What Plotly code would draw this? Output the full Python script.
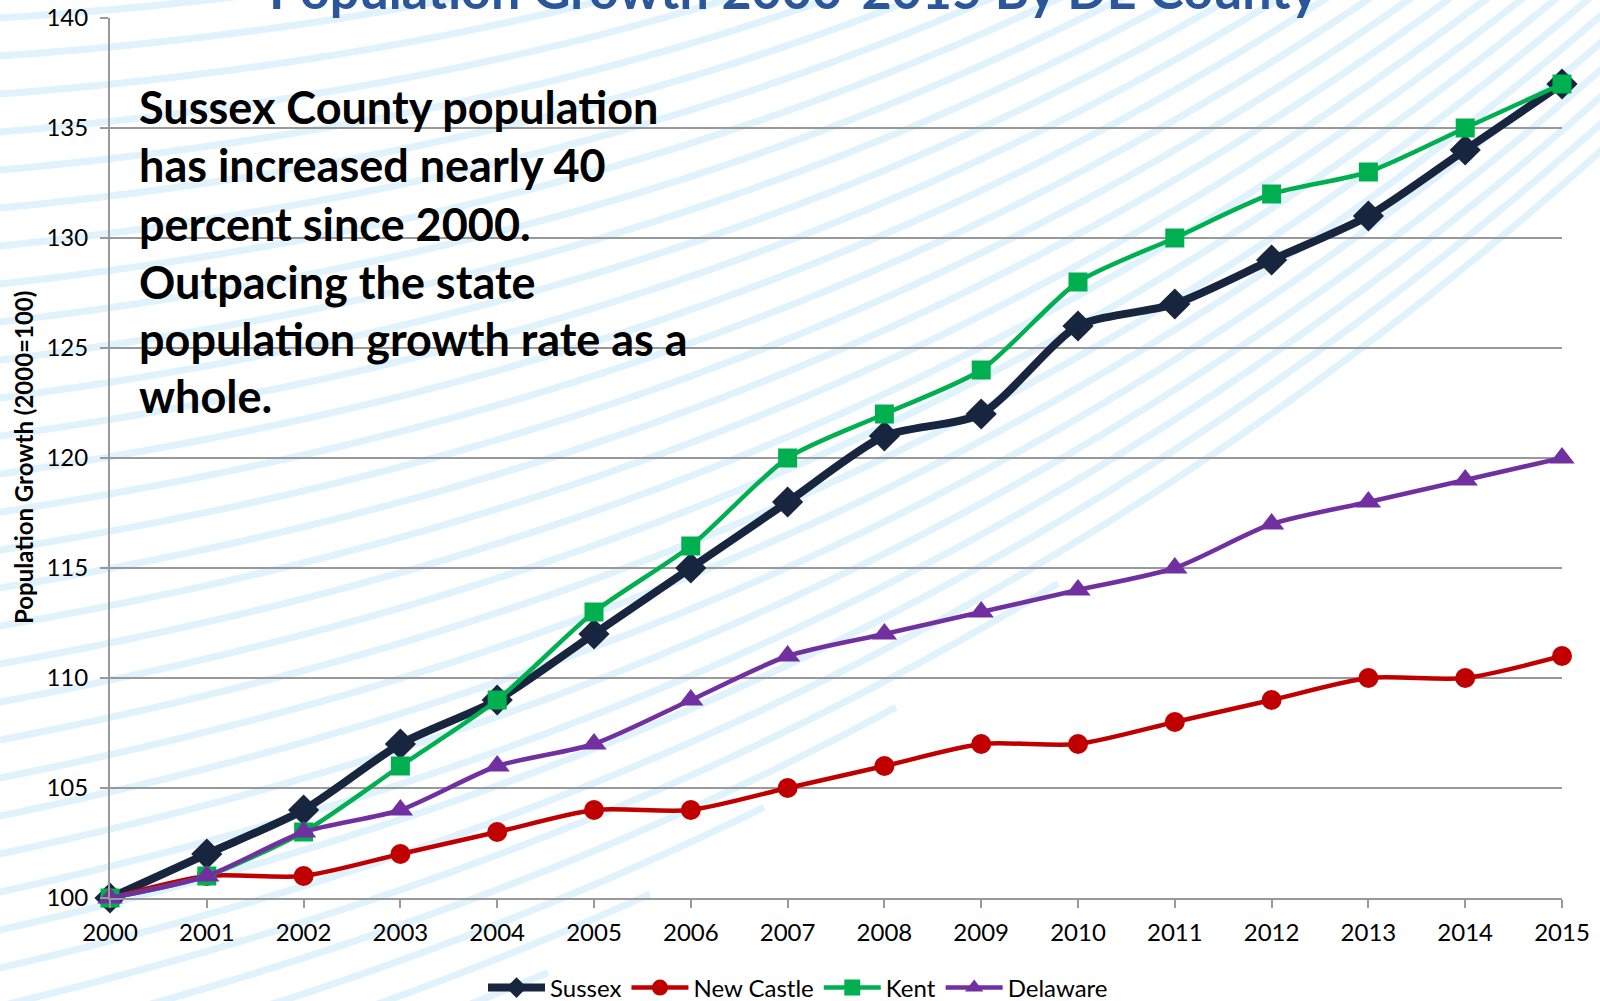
import numpy as np
import plotly.graph_objects as go

years = list(range(2000, 2016))
sussex = [100, 102, 104, 107, 109, 112, 115, 118, 121, 122, 126, 127, 129, 131, 134, 137]
new_castle = [100, 101, 101, 102, 103, 104, 104, 105, 106, 107, 107, 108, 109, 110, 110, 111]
kent = [100, 101, 103, 106, 109, 113, 116, 120, 122, 124, 128, 130, 132, 133, 135, 137]
delaware = [100, 101, 103, 104, 106, 107, 109, 111, 112, 113, 114, 115, 117, 118, 119, 120]

title_text = "Population Growth 2000-2015 By DE County"
note_lines = ["Sussex County population", "has increased nearly 40", "percent since 2000.",
              "Outpacing the state", "population growth rate as a", "whole."]
y_title = "Population Growth (2000=100)"

W, H = 1600, 1001
L, R, T, B = 110, 38, 18, 103
PW, PH = W - L - R, H - T - B


def px2paper(px, py):
    return (px - L) / PW, (H - B - py) / PH


# decorative background stripes
shapes = []
for y0 in np.arange(-20, 1300, 38):
    xs = np.arange(-10, 1625, 6.0)
    s0 = 0.06 + 0.00018 * y0
    ys = y0 - s0 * xs - 1.05e-4 * xs ** 2 - 4.22e-8 * xs ** 3
    yb = 857 - 0.763 * (xs - 700)
    ok = (ys < yb) & (ys > -15) & (ys < 1020)
    pts = [(x, y) for x, y, m in zip(xs, ys, ok) if m]
    if len(pts) < 2:
        continue
    segs = []
    for i, (x, y) in enumerate(pts):
        a, b = px2paper(x, y)
        segs.append(("M" if i == 0 else "L") + f"{a:.5f},{b:.5f}")
    shapes.append(dict(type="path", xref="paper", yref="paper", path=" ".join(segs),
                       line=dict(color="#E0F2FB", width=7), layer="below"))

fig = go.Figure()
fig.add_trace(go.Scatter(x=years, y=sussex, name="Sussex", mode="lines+markers",
                         line=dict(color="#17253F", width=8, shape="spline", smoothing=0.7),
                         marker=dict(symbol="diamond", size=24, color="#17253F"), cliponaxis=False))
fig.add_trace(go.Scatter(x=years, y=new_castle, name="New Castle", mode="lines+markers",
                         line=dict(color="#C00000", width=4.5, shape="spline", smoothing=0.7),
                         marker=dict(symbol="circle", size=20, color="#C00000"), cliponaxis=False))
fig.add_trace(go.Scatter(x=years, y=kent, name="Kent", mode="lines+markers",
                         line=dict(color="#00B050", width=4.5, shape="spline", smoothing=0.7),
                         marker=dict(symbol="square", size=19, color="#00B050"), cliponaxis=False))
fig.add_trace(go.Scatter(x=years, y=delaware, name="Delaware", mode="lines+markers",
                         line=dict(color="#7030A0", width=4.5, shape="spline", smoothing=0.7),
                         marker=dict(symbol="triangle-up", size=22, color="#7030A0"), cliponaxis=False))

annotations = []
tx, ty = px2paper(794, -11)
annotations.append(dict(text=title_text, xref="paper", yref="paper", x=tx, y=ty, xanchor="center",
                        yanchor="middle", showarrow=False,
                        font=dict(family="Lato", size=52, color="#2B579A", weight="bold")))
line_y = [107, 165, 223.5, 281.5, 339, 396]
for txt, py in zip(note_lines, line_y):
    ax, ay = px2paper(137, py)
    annotations.append(dict(text=txt, xref="paper", yref="paper", x=ax, y=ay, xanchor="left",
                            yanchor="middle", showarrow=False,
                            font=dict(family="Lato", size=45, color="#000000", weight="bold")))
yx, yy = px2paper(23, 458)
annotations.append(dict(text=y_title, xref="paper", yref="paper", x=yx, y=yy, xanchor="center",
                        yanchor="middle", showarrow=False, textangle=-90,
                        font=dict(family="Lato", size=24, color="#000000", weight="bold")))

grid_col = "#999999"
fig.update_layout(
    width=W, height=H,
    margin=dict(l=L, r=R, t=T, b=B, autoexpand=False),
    paper_bgcolor="white", plot_bgcolor="rgba(0,0,0,0)",
    shapes=shapes, annotations=annotations,
    font=dict(family="Lato", color="#000000"),
    legend=dict(orientation="h", x=px2paper(798, 0)[0], xanchor="center",
                y=px2paper(0, 988)[1], yanchor="middle", font=dict(size=24, family="Lato"),
                itemwidth=57, bgcolor="rgba(0,0,0,0)", traceorder="normal"),
    xaxis=dict(range=[2000, 2015], tickmode="array", tickvals=years, ticks="outside", ticklen=8,
               tickcolor=grid_col, tickwidth=1.5, showline=True, linecolor=grid_col, linewidth=2,
               showgrid=False, zeroline=False, ticklabelstandoff=4,
               tickfont=dict(size=24, family="Lato")),
    yaxis=dict(range=[100, 140], dtick=5, ticks="outside", ticklen=8, tickcolor=grid_col,
               tickwidth=1.5, showline=True, linecolor=grid_col, linewidth=2, showgrid=True,
               gridcolor=grid_col, gridwidth=1.8, zeroline=False, ticklabelstandoff=7,
               tickfont=dict(size=24, family="Lato")),
)

fig.write_html("out.html")
